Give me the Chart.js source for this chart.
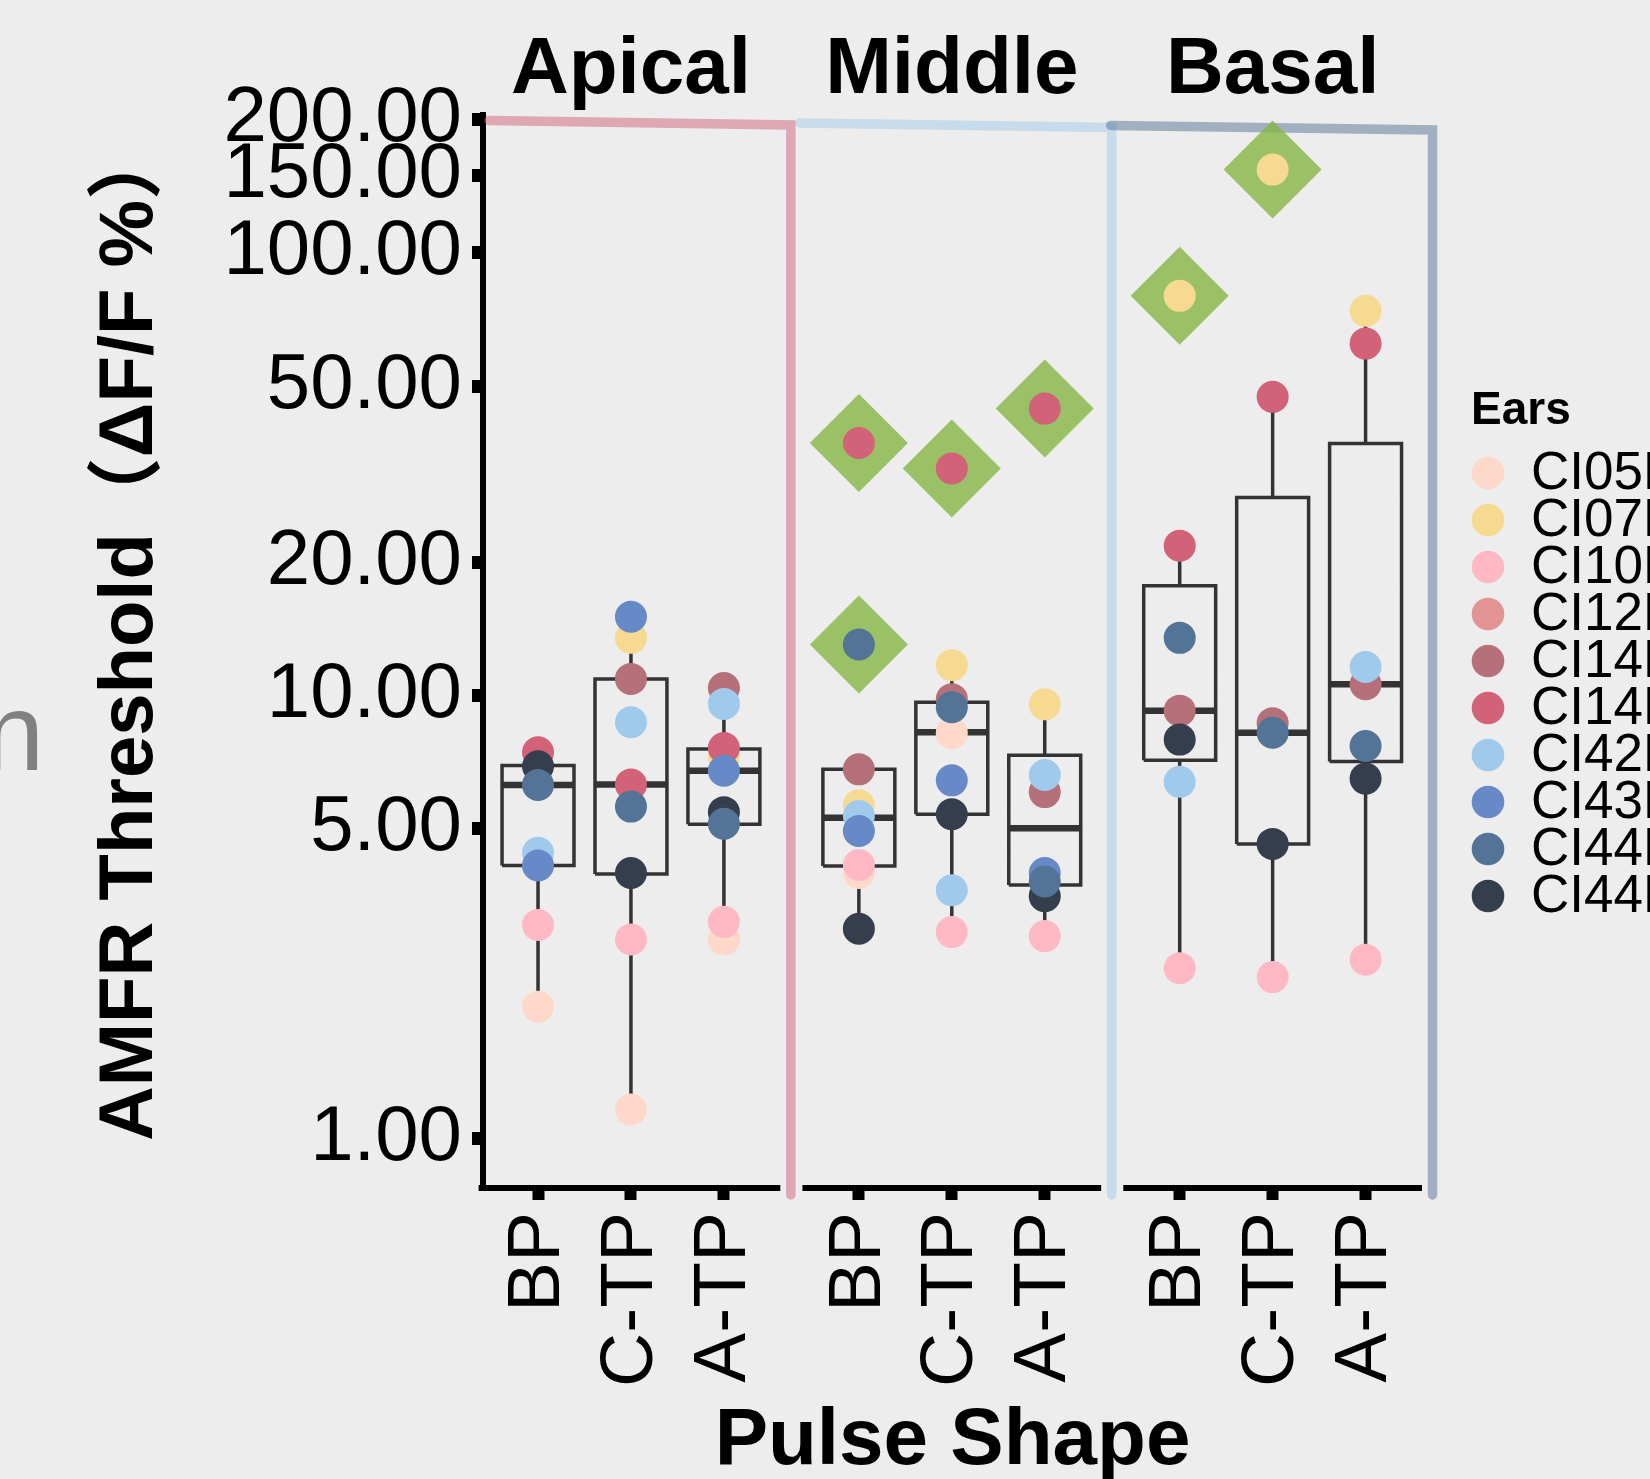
<!DOCTYPE html>
<html>
<head>
<meta charset="utf-8">
<title>AMFR Threshold by Pulse Shape</title>
<script src="https://cdn.jsdelivr.net/npm/chart.js@4/dist/chart.umd.min.js"></script>
<style>
  html, body { margin: 0; padding: 0; background: #ededed; }
  canvas { display: block; }
</style>
</head>
<body>
<canvas id="chart" width="1650" height="1479"></canvas>
<script>
// categories
const regions = ['Apical', 'Middle', 'Basal'];
const pulseShapes = ['BP', 'C-TP', 'A-TP'];
const yTicks = [1, 5, 10, 20, 50, 100, 150, 200];

// ears (legend order) and their colours
const ears = ['CI05L', 'CI07L', 'CI10L', 'CI12L', 'CI14L', 'CI14R', 'CI42L', 'CI43L', 'CI44L', 'CI44R'];
const earColors = ['#fed9ca', '#f6da91', '#ffb9c5', '#e29494', '#b57079', '#d16278', '#9fcaeb', '#6889c8', '#537496', '#343e4c'];

// values per ear, groups: Apical BP, C-TP, A-TP, Middle BP, C-TP, A-TP, Basal BP, C-TP, A-TP
const ci05L = [1.98, 1.16, 2.81, 3.97, 8.22, null, null, null, null];
const ci07L = [null, 13.5, 7.26, 5.65, 11.71, 9.55, 80.0, 154.3, 74.0];
const ci10L = [3.03, 2.81, 3.08, 4.14, 2.92, 2.86, 2.42, 2.31, 2.53];
const ci12L = [null, null, null, null, null, null, null, null, null];
const ci14L = [null, 10.9, 10.4, 6.81, 9.81, 6.05, 9.24, 8.66, 10.6];
const ci14R = [7.44, 6.29, 7.61, 37.2, 32.6, 44.5, 21.8, 47.3, 62.4];
const ci42L = [4.41, 8.70, 9.57, 5.34, 3.63, 6.61, 6.38, null, 11.6];
const ci43L = [4.13, 15.06, 6.76, 4.94, 6.43, 3.97, null, null, null];
const ci44L = [6.28, 5.61, 5.13, 13.04, 9.41, 3.80, 13.5, 8.24, 7.69];
const ci44R = [6.92, 3.97, 5.45, 2.97, 5.39, 3.52, 7.95, 4.62, 6.49];
const earValues = [ci05L, ci07L, ci10L, ci12L, ci14L, ci14R, ci42L, ci43L, ci44L, ci44R];

// box plot statistics per group
const whiskerLow = [1.98, 1.16, 2.81, 2.97, 2.92, 2.86, 2.42, 2.31, 2.53];
const q1 = [4.13, 3.95, 5.12, 4.12, 5.39, 3.73, 7.14, 4.62, 7.09];
const median = [6.28, 6.29, 6.76, 5.29, 8.26, 5.01, 9.24, 8.24, 10.6];
const q3 = [6.95, 10.9, 7.57, 6.81, 9.66, 7.33, 17.7, 28.0, 37.1];
const whiskerHigh = [7.44, 15.06, 10.4, 6.81, 11.71, 9.55, 21.8, 47.3, 74.0];

// outliers (diamonds): group index and value
const outlierGroup = [3, 3, 4, 5, 6, 7];
const outlierValue = [13.04, 37.2, 32.6, 44.5, 80.0, 154.3];

// --- layout helpers ---
const FONT = "'Liberation Sans', Arial, 'Noto Sans CJK SC', sans-serif";
const panelStep = 3.452;   // distance between facets, in category units
const panelPad = 0.607;    // expansion each side of a facet
const boxHalf = 0.387;
const groupX = regions.flatMap((r, p) => pulseShapes.map((s, k) => p * panelStep + k));

// drawing order of the ear points, bottom first
const drawOrder = ['CI05L', 'CI07L', 'CI10L', 'CI12L', 'CI14L', 'CI14R', 'CI44R', 'CI42L', 'CI43L', 'CI44L'];

const earSets = ears.map((name, i) => ({
  type: 'scatter',
  label: name,
  data: groupX.map((x, g) => ({x: x, y: earValues[i][g]})).filter(d => d.y !== null),
  backgroundColor: earColors[i],
  borderWidth: 0,
  pointRadius: 16,
  order: 100 - drawOrder.indexOf(name)
}));

const boxPath = [];
const whiskerPath = [];
const medianPath = [];
groupX.forEach((x, g) => {
  boxPath.push({x: x - boxHalf, y: q1[g]}, {x: x + boxHalf, y: q1[g]}, {x: x + boxHalf, y: q3[g]},
               {x: x - boxHalf, y: q3[g]}, {x: x - boxHalf, y: q1[g]}, {x: x, y: null});
  whiskerPath.push({x: x, y: whiskerLow[g]}, {x: x, y: q1[g]}, {x: x, y: null},
                   {x: x, y: q3[g]}, {x: x, y: whiskerHigh[g]}, {x: x, y: null});
  medianPath.push({x: x - boxHalf, y: median[g]}, {x: x + boxHalf, y: median[g]}, {x: x + boxHalf, y: null});
});

const lineStyle = {type: 'line', borderColor: '#333333', pointRadius: 0, fill: false, spanGaps: false, tension: 0, borderJoinStyle: 'miter'};

const datasets = [
  Object.assign({label: 'box', data: boxPath, borderWidth: 3.5, order: 300}, lineStyle),
  Object.assign({label: 'whisker', data: whiskerPath, borderWidth: 3.5, order: 301}, lineStyle),
  Object.assign({label: 'median', data: medianPath, borderWidth: 6.5, order: 299}, lineStyle),
  {
    type: 'scatter',
    label: 'outlier',
    data: outlierGroup.map((g, i) => ({x: groupX[g], y: outlierValue[i]})),
    pointStyle: 'rectRot',
    pointRadius: 49,
    backgroundColor: 'rgba(132,181,67,0.8)',
    borderWidth: 0,
    order: 200
  }
].concat(earSets);

// facet frames, strip titles, broken x axis, legend
const facetPlugin = {
  id: 'facets',
  beforeDatasetsDraw(chart) {
    const {ctx, chartArea, scales: {x}} = chart;
    const frameColors = ['rgba(209,98,120,0.5)', 'rgba(159,202,235,0.5)', 'rgba(83,116,150,0.5)'];
    const lead = [6, 9, -1];
    let prev = chartArea.left;
    ctx.save();
    ctx.lineWidth = 9.5;
    ctx.lineCap = 'round';
    ctx.lineJoin = 'miter';
    regions.forEach((r, p) => {
      const right = x.getPixelForValue(groupX[p * 3 + 2] + panelPad) + 10.5;
      const start = prev + lead[p];
      const top0 = chartArea.top + 5.5 + 2.5 * p;
      ctx.strokeStyle = frameColors[p];
      ctx.beginPath();
      ctx.moveTo(start, top0);
      ctx.lineTo(right, top0 + 4.5);
      ctx.lineTo(right, chartArea.bottom + 7);
      ctx.stroke();
      prev = right;
    });
    ctx.restore();
  },
  afterDraw(chart) {
    const {ctx, chartArea, scales: {x}} = chart;
    ctx.save();
    // broken x axis line, one piece per facet
    ctx.strokeStyle = '#000';
    ctx.lineWidth = 6;
    ctx.lineCap = 'butt';
    regions.forEach((r, p) => {
      const a = x.getPixelForValue(groupX[p * 3] - panelPad);
      const b = x.getPixelForValue(groupX[p * 3 + 2] + panelPad);
      ctx.beginPath();
      ctx.moveTo(p === 0 ? a - 3 : a, chartArea.bottom);
      ctx.lineTo(b, chartArea.bottom);
      ctx.stroke();
    });
    // strip titles
    ctx.fillStyle = '#000';
    ctx.font = 'bold 80px ' + FONT;
    ctx.textAlign = 'center';
    ctx.textBaseline = 'alphabetic';
    regions.forEach((r, p) => {
      ctx.fillText(r, x.getPixelForValue(groupX[p * 3 + 1]), 93);
    });
    // legend (runs off the right edge, as in the source figure)
    ctx.textAlign = 'left';
    ctx.font = 'bold 46px ' + FONT;
    ctx.fillText('Ears', 1471, 424);
    ctx.font = '53px ' + FONT;
    ctx.textBaseline = 'middle';
    ears.forEach((name, i) => {
      const cy = 473 + i * 47;
      ctx.fillStyle = earColors[i];
      ctx.beginPath();
      ctx.arc(1488, cy, 16.3, 0, Math.PI * 2);
      ctx.fill();
      ctx.fillStyle = '#000';
      ctx.fillText(name, 1531, cy + 1);
    });
    // stray letter cut off at the left edge
    ctx.textBaseline = 'alphabetic';
    ctx.fillStyle = '#808080';
    ctx.font = '110px ' + FONT;
    ctx.fillText('n', -17, 770);
    ctx.restore();
  }
};

Chart.defaults.font.family = FONT;
Chart.defaults.color = '#000';

new Chart(document.getElementById('chart'), {
  data: {datasets: datasets},
  options: {
    responsive: false,
    devicePixelRatio: 1,
    animation: false,
    events: [],
    layout: {padding: {top: 115, right: 228, bottom: 0, left: 0}},
    plugins: {legend: {display: false}, tooltip: {enabled: false}},
    scales: {
      x: {
        type: 'linear',
        min: groupX[0] - 0.592,
        max: groupX[8] + panelPad,
        afterBuildTicks: s => { s.ticks = groupX.map(v => ({value: v})); },
        afterFit: s => { s.height = 291; },
        ticks: {
          autoSkip: false, minRotation: 90, maxRotation: 90, padding: 12,
          color: '#000', font: {size: 75},
          callback: (v, i) => pulseShapes[i % 3]
        },
        grid: {display: true, drawOnChartArea: false, tickLength: 12, tickWidth: 12, tickColor: '#000'},
        border: {display: false},
        title: {
          display: true, text: 'Pulse Shape', color: '#000',
          font: {size: 80, weight: 'bold', lineHeight: 1},
          padding: {top: 0, bottom: -3}
        }
      },
      y: {
        type: 'logarithmic',
        min: 0.771,
        max: 205,
        afterBuildTicks: s => { s.ticks = yTicks.map(v => ({value: v})); },
        afterFit: s => { s.width = 483; },
        ticks: {
          autoSkip: false, padding: 10, color: '#000', font: {size: 78},
          callback: v => Number(v).toFixed(2)
        },
        grid: {display: true, drawOnChartArea: false, tickLength: 11, tickWidth: 13, tickColor: '#000'},
        border: {display: true, color: '#000', width: 6},
        title: {
          display: true, text: '\u2002AMFR Threshold（ΔF/F %）', color: '#000',
          font: {size: 76, weight: 'bold', lineHeight: 1},
          padding: {top: 93, bottom: 0}
        }
      }
    }
  },
  plugins: [facetPlugin]
});
</script>
</body>
</html>
